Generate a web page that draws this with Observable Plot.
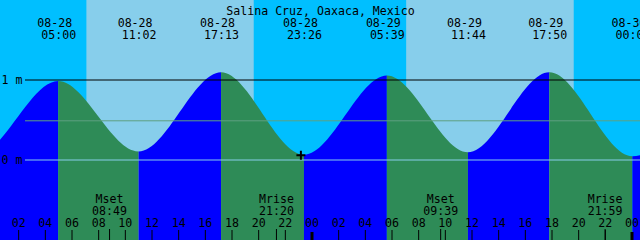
<!DOCTYPE html>
<html><head><meta charset="utf-8">
<script src="https://cdn.jsdelivr.net/npm/d3@7"></script>
<script src="https://cdn.jsdelivr.net/npm/@observablehq/plot@0.6"></script>
<style>html,body{margin:0;padding:0;background:#fff}#chart svg{display:block}</style>
</head><body><div id="chart"></div>
<script>
// ---- data ----
const title = "Salina Cruz, Oaxaca, Mexico";
const tideTimes   = ["08-27 16:35","08-27 22:48","08-28 05:00","08-28 11:02","08-28 17:13","08-28 23:26","08-29 05:39","08-29 11:44","08-29 17:50","08-30 00:04","08-30 06:15"];
const tideHeights = [1.04, 0.05, 0.98, 0.10, 1.09, 0.06, 1.05, 0.09, 1.09, 0.04, 1.02];
const sunriseTimes = ["08-28 07:07","08-29 07:06"];
const sunsetTimes  = ["08-28 19:40","08-29 19:40"];
const moonEvents = ["Mset","Mrise","Mset","Mrise"];
const moonTimes  = ["08-28 08:49","08-28 21:20","08-29 09:39","08-29 21:59"];
const hourTicks  = [2,4,6,8,10,12,14,16,18,20,22,24,26,28,30,32,34,36,38,40,42,44,46,48];
const hourLabels = ["02","04","06","08","10","12","14","16","18","20","22","00","02","04","06","08","10","12","14","16","18","20","22","00"];
const levelValues = [1, 0];
const levelLabels = ["1 m","0 m"];
const meanLevel = 0.49;
const nowTime = "08-28 23:10";
const nowHeight = 0.06;

// ---- scales (hours since 08-28 00:00, metres) ----
const xDomain = [0.6375, 48.6375];
const yDomain = [-1.00625, 1.99375];
const font = "DejaVu Sans Mono";
const fs = 11.6;

const parse = s => { const [md, hm] = s.split(" "); const d = +md.split("-")[1]; const [H, M] = hm.split(":").map(Number); return (d - 28) * 24 + H + M / 60; };
const tides = tideTimes.map((s, i) => ({t: parse(s), h: tideHeights[i], date: s.split(" ")[0], time: s.split(" ")[1]}));
const segs = d3.pairs(tides).map(([a, b]) => ({t1: a.t, t2: b.t, fill: b.h > a.h ? "#0000ff" : "#2e8b57"}));
const shown = tides.filter(d => d.t >= xDomain[0] && d.t <= xDomain[1]);
const days = sunriseTimes.map((s, i) => ({rise: parse(s), set: parse(sunsetTimes[i])}));
const moons = moonTimes.map((s, i) => ({t: parse(s), name: moonEvents[i], time: s.split(" ")[1]}));
const ticks = hourTicks.map((h, i) => ({t: h, label: hourLabels[i], midnight: h % 24 === 0}));
const txt = {fontFamily: font, fontSize: fs, fill: "black"};

const chart = Plot.plot({
  width: 640, height: 240, margin: 0,
  x: {domain: xDomain, axis: null},
  y: {domain: yDomain, axis: null},
  color: {type: "identity"},
  style: {background: "#00bfff", fontFamily: font, fontSize: fs + "px", color: "black"},
  marks: [
    Plot.rect(days, {x1: "rise", x2: "set", fill: "#87ceeb"}),
    Plot.rect(segs, {x1: "t1", x2: "t2", fill: "fill", ariaDescription: "tide-fill"}),
    Plot.areaY(tides, {x: "t", y1: yDomain[0], y2: "h", curve: "monotone-x", fill: "black", ariaDescription: "tide-clip"}),
    Plot.ruleY([meanLevel], {stroke: "#5fa080", insetLeft: 25}),
    Plot.ruleY([levelValues[1]], {stroke: "#87ceeb", insetLeft: 25}),
    Plot.ruleY([levelValues[0]], {stroke: "black", insetLeft: 25}),
    Plot.text(levelValues, {y: d => d, text: (d, i) => levelLabels[i], frameAnchor: "left", textAnchor: "start", dx: 1, ...txt}),
    Plot.text([title], {frameAnchor: "top", dy: 6, ...txt}),
    Plot.text(shown, {x: "t", text: "date", frameAnchor: "top", dy: 18, dx: -4, ...txt}),
    Plot.text(shown, {x: "t", text: "time", frameAnchor: "top", dy: 30, ...txt}),
    Plot.tickX(ticks.filter(d => !d.midnight), {x: "t", stroke: "black", insetTop: 230}),
    Plot.tickX(ticks.filter(d => d.midnight), {x: "t", stroke: "black", strokeWidth: 3, insetTop: 232}),
    Plot.tickX(moons, {x: "t", stroke: "black", insetTop: 229}),
    Plot.text(ticks, {x: "t", text: "label", frameAnchor: "bottom", dy: -13.5, ...txt}),
    Plot.text(moons, {x: "t", text: "name", frameAnchor: "bottom", dy: -38, ...txt}),
    Plot.text(moons, {x: "t", text: "time", frameAnchor: "bottom", dy: -26, ...txt}),
    Plot.dot([{t: parse(nowTime), h: nowHeight}], {x: "t", y: "h", symbol: "plus", r: 3, stroke: "black", strokeWidth: 2})
  ]
});

// clip the rising/falling fills to the area under the tide curve
try {
  const ns = "http://www.w3.org/2000/svg";
  const areaG = chart.querySelector('g[aria-description="tide-clip"]') || chart.querySelector('g[aria-label="area"]');
  const segG = chart.querySelector('g[aria-description="tide-fill"]') || chart.querySelectorAll('g[aria-label="rect"]')[1];
  const areaPath = areaG.querySelector("path");
  const defs = document.createElementNS(ns, "defs");
  const cp = document.createElementNS(ns, "clipPath");
  cp.setAttribute("id", "tideclip");
  const p = document.createElementNS(ns, "path");
  p.setAttribute("d", areaPath.getAttribute("d"));
  const tr = [areaG.getAttribute("transform"), areaPath.getAttribute("transform")].filter(Boolean).join(" ");
  if (tr) p.setAttribute("transform", tr);
  cp.appendChild(p); defs.appendChild(cp);
  chart.insertBefore(defs, chart.firstChild);
  const wrap = document.createElementNS(ns, "g");
  wrap.setAttribute("clip-path", "url(#tideclip)");
  segG.parentNode.insertBefore(wrap, segG);
  wrap.appendChild(segG);
  areaG.remove();
} catch (e) { console.error(e); }

document.getElementById("chart").appendChild(chart);
</script>
</body></html>
